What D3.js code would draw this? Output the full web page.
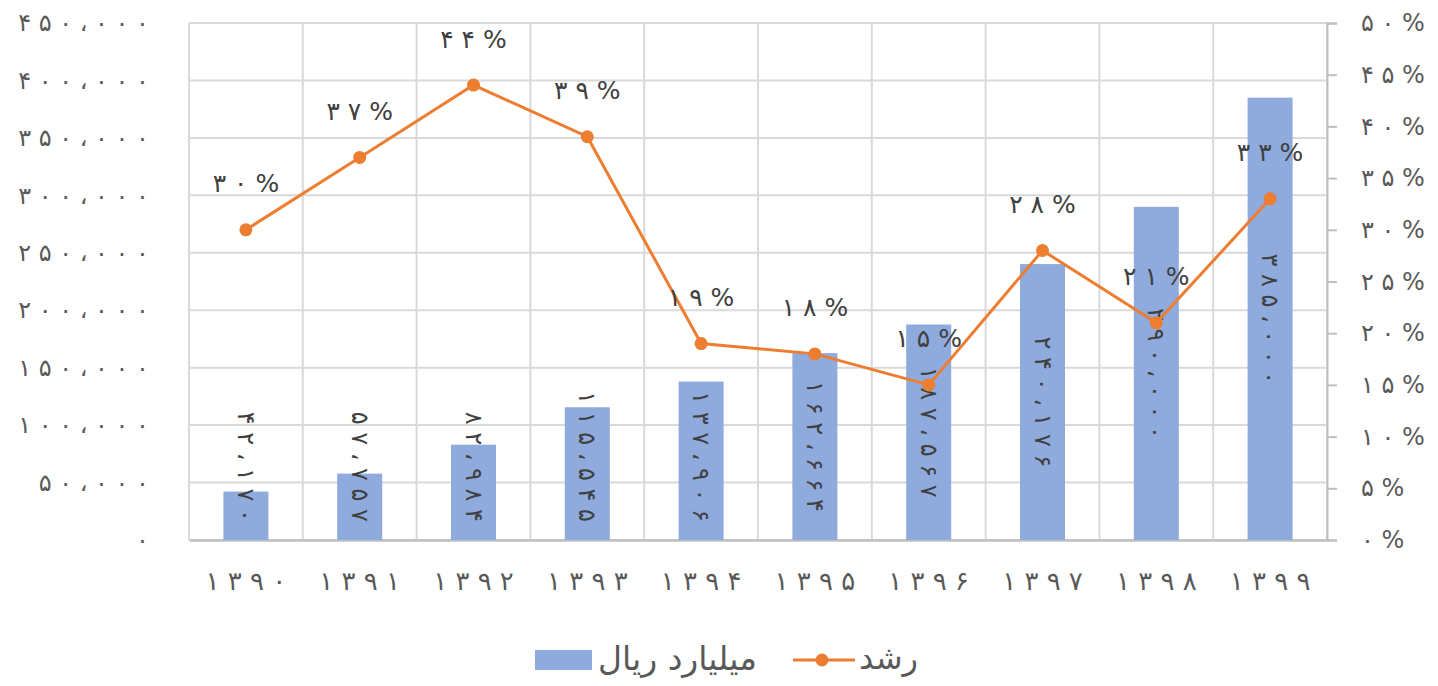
<!DOCTYPE html>
<html>
<head>
  <meta charset="UTF-8">
  <style>
    body { margin: 0; background: #fff; }
    svg text { font-family: "DejaVu Sans", sans-serif; }
  </style>
</head>
<body>
  <svg id="chart" width="1438" height="686"></svg>
  <script src="https://d3js.org/d3.v7.min.js"></script>
  <script>
    // chart data
    var years = ["1390", "1391", "1392", "1393", "1394", "1395", "1396", "1397", "1398", "1399"];
    var amounts = [42170, 57757, 82984, 115545, 137906, 162664, 187567, 240176, 290000, 385000];
    var growth = [0.30, 0.37, 0.44, 0.39, 0.19, 0.18, 0.15, 0.28, 0.21, 0.33];
    var leftTicks = [0, 50000, 100000, 150000, 200000, 250000, 300000, 350000, 400000, 450000];
    var rightTicks = [0, 0.05, 0.10, 0.15, 0.20, 0.25, 0.30, 0.35, 0.40, 0.45, 0.50];
    var barName = "میلیارد ریال";
    var lineName = "رشد";

    var data = years.map(function(y, i) { return {year: y, amount: amounts[i], growth: growth[i]}; });

    var fa = "۰۱۲۳۴۵۶۷۸۹";
    function toFa(s) { return String(s).replace(/[0-9]/g, function(c) { return fa[+c]; }).replace(/,/g, "،"); }
    // letter-spacing is ignored for arabic-script digits, so space them by hand
    function sp(s) { return Array.from(s).join(" "); }
    var fmtNum = d3.format(",");
    function num(v) { return sp(toFa(fmtNum(v))); }
    function pct(v) { return sp(toFa(Math.round(v * 100)) + "%"); }

    var svg = d3.select("#chart");
    var pLeft = 189, pRight = 1327, pTop = 23, pBottom = 540;

    var x = d3.scaleBand().domain(years).range([pLeft, pRight]).paddingInner(0).paddingOuter(0);
    var y = d3.scaleLinear().domain([0, 450000]).range([pBottom, pTop]);
    var y2 = d3.scaleLinear().domain([0, 0.5]).range([pBottom, pTop]);

    var grid = "#d9d9d9", axisCol = "#bfbfbf", textCol = "#595959";

    // horizontal gridlines
    svg.append("g").selectAll("line").data(leftTicks).enter().append("line")
      .attr("x1", pLeft).attr("x2", pRight)
      .attr("y1", function(d) { return y(d); }).attr("y2", function(d) { return y(d); })
      .attr("stroke", grid).attr("stroke-width", 2);

    // vertical gridlines at category edges
    var edges = years.map(function(d) { return x(d); }).concat([pRight]);
    svg.append("g").selectAll("line").data(edges).enter().append("line")
      .attr("x1", function(d) { return d; }).attr("x2", function(d) { return d; })
      .attr("y1", pTop).attr("y2", pBottom)
      .attr("stroke", grid).attr("stroke-width", 2);

    // left axis labels
    var yAxis = svg.append("g").attr("transform", "translate(" + pLeft + ",0)")
      .call(d3.axisLeft(y).tickValues(leftTicks).tickSize(0).tickPadding(40).tickFormat(num));
    yAxis.select(".domain").remove();
    yAxis.selectAll("text").attr("font-size", 24).attr("fill", textCol)
      .attr("font-family", "DejaVu Sans");

    // right axis
    var y2Axis = svg.append("g").attr("transform", "translate(" + pRight + ",0)")
      .call(d3.axisRight(y2).tickValues(rightTicks).tickSize(10).tickPadding(24).tickFormat(pct));
    y2Axis.select(".domain").attr("stroke", axisCol).attr("stroke-width", 2);
    y2Axis.selectAll(".tick line").attr("stroke", axisCol).attr("stroke-width", 2);
    y2Axis.selectAll("text").attr("font-size", 24).attr("fill", textCol)
      .attr("font-family", "DejaVu Sans");

    // bottom axis
    var xAxis = svg.append("g").attr("transform", "translate(0," + pBottom + ")")
      .call(d3.axisBottom(x).tickSize(0).tickPadding(32).tickFormat(function(d) { return sp(toFa(d)); }));
    xAxis.select(".domain").attr("stroke", axisCol).attr("stroke-width", 2.5);
    xAxis.selectAll("text").attr("font-size", 26).attr("fill", textCol)
      .attr("font-family", "DejaVu Sans");

    // bars
    var bw = 45;
    svg.append("g").selectAll("rect").data(data).enter().append("rect")
      .attr("x", function(d) { return x(d.year) + x.bandwidth() / 2 - bw / 2; })
      .attr("y", function(d) { return y(d.amount); })
      .attr("width", bw)
      .attr("height", function(d) { return pBottom - y(d.amount); })
      .attr("fill", "#8faadc");

    // bar labels, rotated
    var bl = svg.append("g").selectAll("text").data(data).enter().append("text")
      .attr("font-size", 24).attr("fill", "#404040")
      .attr("text-anchor", "middle").attr("dominant-baseline", "central")
      .text(function(d) { return num(d.amount); });
    bl.each(function(d) {
      var len = this.getComputedTextLength();
      var mid = (y(d.amount) + pBottom) / 2;
      var cy = Math.min(mid, pBottom - 18 - len / 2);
      var cx = x(d.year) + x.bandwidth() / 2;
      d3.select(this).attr("transform", "translate(" + cx + "," + cy + ") rotate(90)");
    });

    // growth line
    var line = d3.line()
      .x(function(d) { return x(d.year) + x.bandwidth() / 2; })
      .y(function(d) { return y2(d.growth); });
    svg.append("path").datum(data).attr("d", line)
      .attr("fill", "none").attr("stroke", "#ed7d31").attr("stroke-width", 3);
    svg.append("g").selectAll("circle").data(data).enter().append("circle")
      .attr("cx", function(d) { return x(d.year) + x.bandwidth() / 2; })
      .attr("cy", function(d) { return y2(d.growth); })
      .attr("r", 6.5).attr("fill", "#ed7d31");
    svg.append("g").selectAll("text").data(data).enter().append("text")
      .attr("x", function(d) { return x(d.year) + x.bandwidth() / 2; })
      .attr("y", function(d) { return y2(d.growth) - 46; })
      .attr("text-anchor", "middle").attr("dominant-baseline", "central")
      .attr("font-size", 25).attr("fill", "#404040")
      .text(function(d) { return pct(d.growth); });

    // legend
    var lg = svg.append("g");
    lg.append("rect").attr("x", 535).attr("y", 650).attr("width", 57).attr("height", 20).attr("fill", "#8faadc");
    lg.append("text").attr("x", 598).attr("y", 658).attr("dominant-baseline", "central")
      .attr("font-size", 33).attr("fill", textCol).attr("direction", "rtl").attr("text-anchor", "end")
      .text(barName);
    lg.append("line").attr("x1", 793).attr("x2", 855).attr("y1", 660).attr("y2", 660)
      .attr("stroke", "#ed7d31").attr("stroke-width", 3);
    lg.append("circle").attr("cx", 822).attr("cy", 660).attr("r", 6.5).attr("fill", "#ed7d31");
    lg.append("text").attr("x", 859).attr("y", 658).attr("dominant-baseline", "central")
      .attr("font-size", 32).attr("fill", textCol).attr("direction", "rtl").attr("text-anchor", "end")
      .text(lineName);
  </script>
</body>
</html>
